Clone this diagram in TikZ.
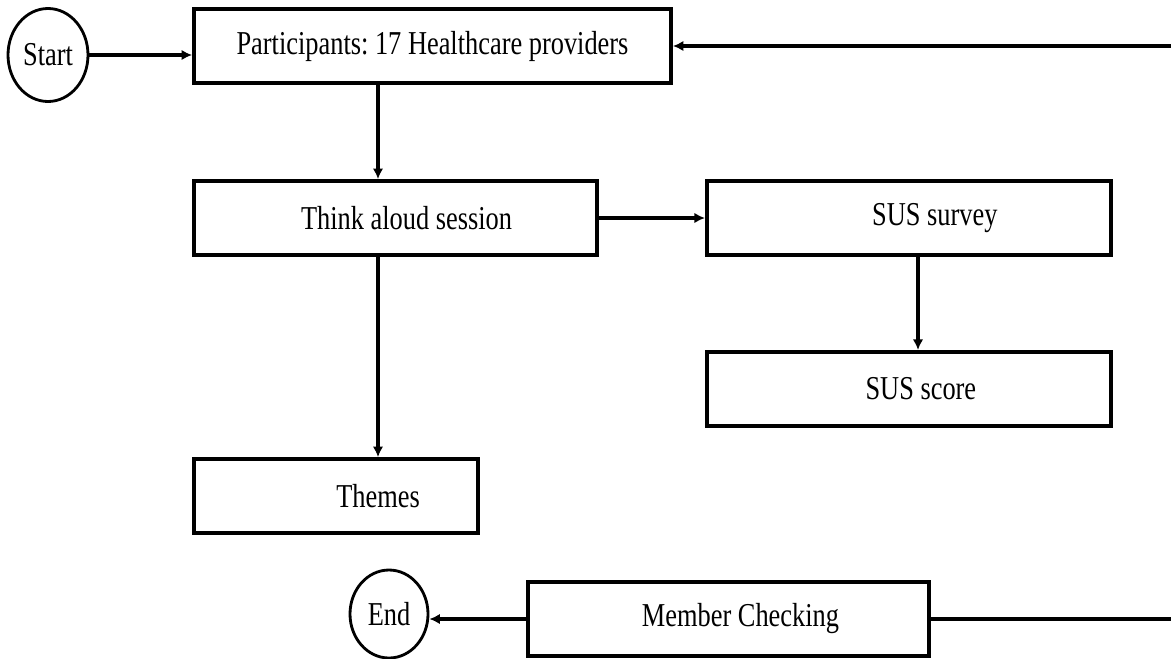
\documentclass[tikz,border=0pt]{standalone}
\usepackage{fontspec}
\setmainfont{Liberation Serif}[FakeStretch=0.79]
\frenchspacing
\usetikzlibrary{shapes.geometric,arrows.meta,positioning}

\begin{document}
\begin{tikzpicture}[
  box/.style={rectangle, draw=black, line width=2.2pt, fill=white,
              minimum height=1.48cm, inner sep=0pt, font=\fontsize{19}{22}\selectfont},
  term/.style={ellipse, draw=black, line width=1.6pt, fill=white,
               inner sep=0pt, font=\fontsize{19}{22}\selectfont},
  arr/.style={-{Latex[length=6pt,width=6pt]}, line width=2pt},
  flow/.style={line width=2pt}]

  \useasboundingbox (0,0) rectangle (23.42,-13.16);

  \node[term, minimum width=1.6cm, minimum height=1.86cm] (start) at (0.96,-1.1) {Start};
  \node[box, minimum width=9.54cm] (part) at (8.65,-0.92) {Participants: 17 Healthcare providers};
  \node[box, minimum width=8.06cm] (think) at (7.91,-4.36) {\hspace*{0.44cm}Think aloud session};
  \node[box, minimum width=8.08cm, right=2.12cm of think] (sus) {\hspace*{1.04cm}SUS survey};
  \node[box, minimum width=8.08cm, below=1.86cm of sus] (score) {\hspace*{0.48cm}SUS score};
  \node[box, minimum width=5.68cm] (themes) at (6.72,-9.92) {\hspace*{1.68cm}Themes};
  \node[box, minimum width=8.02cm] (member) at (14.57,-12.38) {\hspace*{0.48cm}Member Checking};
  \node[term, minimum width=1.56cm, minimum height=1.76cm] (end) at (7.78,-12.28) {End};

  % columns of the vertical arrows, and the loop ends at the page edge
  \coordinate (lcol) at (7.56,0);
  \coordinate (rcol) at (18.36,0);
  \coordinate (edgeN) at (23.42,-0.92);
  \coordinate (edgeS) at (23.42,-12.38);

  \draw[arr] (start.east) -- (start.east -| part.west);
  \draw[arr] (part.south -| lcol) -- (think.north -| lcol);
  \draw[arr] (think) -- (sus);
  \draw[arr] (sus.south -| rcol) -- (score.north -| rcol);
  \draw[arr] (think.south -| lcol) -- (themes.north -| lcol);
  \draw[arr] (member) -- (member -| end.east);
  \draw[flow] (member) -- (edgeS);
  \draw[arr] (edgeN) -- (part);

\end{tikzpicture}
\end{document}
